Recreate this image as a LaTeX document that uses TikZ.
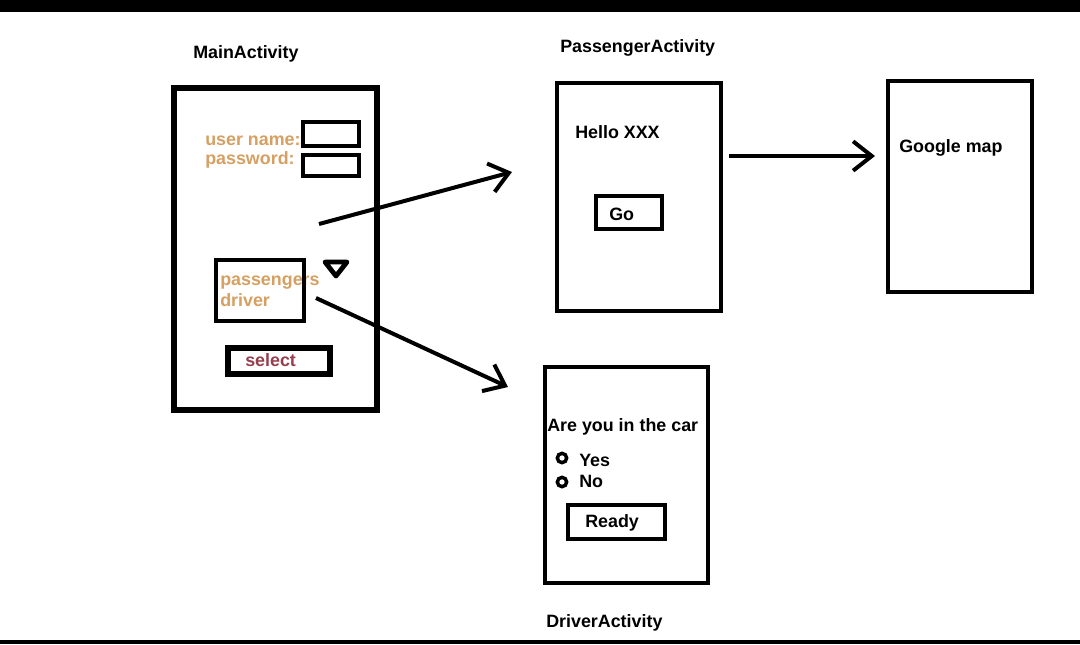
\documentclass[tikz,border=0pt]{standalone}
\usepackage{fontspec}
\setmainfont{Liberation Sans}
\usetikzlibrary{arrows.meta}
\definecolor{labelorange}{RGB}{214,160,98}
\definecolor{selectred}{RGB}{150,62,78}
\begin{document}
\begin{tikzpicture}[x=0.75pt,y=-0.75pt,
  every node/.style={font=\bfseries\fontsize{13.4}{15}\selectfont},
  txt/.style={anchor=base west,inner sep=0pt},
  frame/.style={draw=black,line width=3pt,inner sep=0pt,rectangle},
  radio/.style={draw=black,circle,line width=2.6pt,minimum size=7pt,inner sep=0pt},
  conn/.style={draw=black,line width=3pt,-{Straight Barb[length=14pt,width=22pt,line width=3pt]}}
]
% canvas and bands
\fill[white] (0,0) rectangle (1080,644);
\useasboundingbox (0,0) rectangle (1080,644);
\fill[black] (0,0) rectangle (1080,12);
\fill[black] (0,640) rectangle (1080,644);

% MainActivity
\node[txt] (mainlbl) at (193,58) {MainActivity};
\node[frame,line width=4.5pt,minimum width=152.25pt,minimum height=241.5pt] (main) at (275.5,249) {};
\node[txt,text=labelorange] (uname) at (205,145) {user name:};
\node[txt,text=labelorange] (pword) at (205,164) {password:};
\node[frame,minimum width=42pt,minimum height=18pt] (ubox) at (331,134) {};
\node[frame,minimum width=42pt,minimum height=15.75pt] (pbox) at (331,165.5) {};
\node[txt,text=labelorange] (opt1) at (220,285) {passengers};
\node[txt,text=labelorange] (opt2) at (220,306) {driver};
\node[frame,minimum width=66pt,minimum height=45.75pt] (dd) at (260,290.5) {};
\draw[line width=3.6pt,line join=round,fill=white] (325,262) -- (347,262) -- (336,276) -- cycle;
\node[frame,line width=4.5pt,minimum width=76.5pt,minimum height=19.5pt] (sel) at (279,361) {};
\node[txt,text=selectred] (seltxt) at (245,366) {select};

% PassengerActivity
\node[txt] (paslbl) at (560,52) {PassengerActivity};
\node[frame,minimum width=123pt,minimum height=171pt] (pas) at (639,197) {};
\node[txt] (hello) at (575,138) {Hello XXX};
\node[frame,minimum width=49.5pt,minimum height=24.75pt] (go) at (629,212.5) {};
\node[txt] (gotxt) at (609,220) {Go};

% Google map
\node[frame,minimum width=108pt,minimum height=158.25pt] (gmap) at (960,186.5) {};
\node[txt] (gtxt) at (899,152) {Google map};

% DriverActivity
\node[frame,minimum width=122.25pt,minimum height=162pt] (drv) at (626.5,475) {};
\node[txt] (ask) at (547,431) {Are you in the car};
\node[radio] (r1) at (562,458) {};
\node[radio] (r2) at (562,482) {};
\node[txt] (yes) at (579,466) {Yes};
\node[txt] (no) at (579,487) {No};
\node[frame,minimum width=72.75pt,minimum height=25.5pt] (ready) at (616.5,522) {};
\node[txt] (readytxt) at (585,527) {Ready};
\node[txt] (drvlbl) at (546,627) {DriverActivity};

% connectors
\coordinate (a1s) at (319,224);
\coordinate (a1e) at (512,172);
\coordinate (a2s) at (316,298);
\coordinate (a2e) at (508,387);
\coordinate (a3s) at (729,156);
\coordinate (a3e) at (875,156);
\draw[conn] (a1s) -- (a1e);
\draw[conn] (a2s) -- (a2e);
\draw[conn] (a3s) -- (a3e);
\end{tikzpicture}
\end{document}
